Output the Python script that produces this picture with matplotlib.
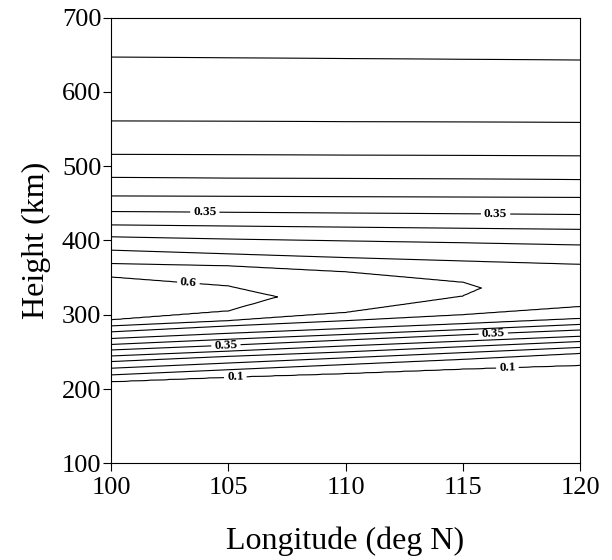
import numpy as np
import matplotlib
matplotlib.use("Agg")
import matplotlib.pyplot as plt

plt.rcParams['font.family'] = ['Liberation Serif', 'DejaVu Serif']

# Longitude columns at which contour crossing heights were read (deg)
lons = [100, 105, 110, 115, 120]
# Contour levels
levels = [0.1, 0.15, 0.2, 0.25, 0.3, 0.35, 0.4, 0.45, 0.5, 0.55, 0.6]
nan = np.nan
# Heights (km) where each level is crossed below the peak, per longitude column
lower_heights = [
    [210, 216, 221, 227, 232],        # 0.10
    [219, 226, 233, 240, 248],        # 0.15
    [228, 235, 242, 249, 256],        # 0.20
    [237, 244, 250, 257, 264],        # 0.25
    [244.5, 251, 258, 264.5, 271],    # 0.30
    [252.6, 259, 266, 273, 279.5],    # 0.35
    [260, 267, 273.5, 280, 287],      # 0.40
    [268, 275, 281.5, 288, 295],      # 0.45
    [277, 285, 292, 300, 311],        # 0.50
    [285, 292, 303, 325, nan],        # 0.55
    [293, 305, nan, nan, nan],        # 0.60
]
# Heights (km) where each level is crossed above the peak, per longitude column
upper_heights = [
    [647, 646, 645, 644, 643],        # 0.10
    [561, 560.5, 560, 559.5, 559],    # 0.15
    [516, 515.5, 515, 514.5, 514],    # 0.20
    [485, 484, 483.5, 483, 482],      # 0.25
    [460, 459.5, 459, 458.5, 458],    # 0.30
    [439, 438, 437, 436, 435],        # 0.35
    [421, 419.5, 418, 416.5, 415],    # 0.40
    [405, 402, 399.5, 397, 394],      # 0.45
    [387, 382, 377, 372.5, 368],      # 0.50
    [369, 366, 358, 344, nan],        # 0.55
    [351, 339, nan, nan, nan],        # 0.60
]
# Tips of the closed contours: level -> (longitude, height)
nose_points = {0.55: (115.8, 336.0), 0.6: (107.1, 324.0)}
# Peak value and its height per column
peak_values = [0.63, 0.612, 0.585, 0.553, 0.535]
peak_heights = [322, 323, 330, 335, 340]
bottom_value = 0.0
top_value = 0.075

# ---- build the gridded field from the read crossings ----
heights = np.arange(100, 701, 1.0)
fine_lons = np.linspace(100, 120, 201)


def crossing(i, lon, rows):
    vals = np.array(rows[i], dtype=float)
    lv = levels[i]
    xs = [l for l, v in zip(lons, vals) if not np.isnan(v)]
    ys = [v for v in vals if not np.isnan(v)]
    if lv in nose_points:
        nl, nh = nose_points[lv]
        if lon > nl:
            return nan
        xs = xs + [nl]
        ys = ys + [nh]
    return np.interp(lon, xs, ys)


Z = np.zeros((len(heights), len(fine_lons)))
for j, lon in enumerate(fine_lons):
    pv = np.interp(lon, lons, peak_values)
    ph = np.interp(lon, lons, peak_heights)
    lo = [crossing(i, lon, lower_heights) for i in range(len(levels))]
    up = [crossing(i, lon, upper_heights) for i in range(len(levels))]
    present = [i for i in range(len(levels)) if not np.isnan(lo[i])]
    top_i = present[-1]
    ph = min(max(ph, lo[top_i] + 0.01), up[top_i] - 0.01)
    pv = max(pv, levels[top_i] + 1e-4)
    hs, vs = [100.0], [bottom_value]
    for i in present:
        hs.append(lo[i]); vs.append(levels[i])
    hs.append(ph); vs.append(pv)
    for i in reversed(present):
        hs.append(up[i]); vs.append(levels[i])
    hs.append(700.0); vs.append(top_value)
    Z[:, j] = np.interp(heights, hs, vs)

fig = plt.figure(figsize=(6.12, 5.6), dpi=100)
ax = fig.add_axes([0.1814, 0.1727, 0.7663, 0.7957])

cs = ax.contour(fine_lons, heights, Z, levels=levels, colors='k', linewidths=0.8)

label_positions = [(104.0, 438), (116.4, 436), (103.3, 343),
                   (104.9, 259), (105.3, 215), (116.3, 274), (116.9, 230)]
with plt.rc_context({'font.weight': 'bold'}):
    ax.clabel(cs, manual=label_positions, fmt='%g', fontsize=9.5,
              inline=True, inline_spacing=3)

ax.set_xlim(100, 120)
ax.set_ylim(100, 700)
ax.set_xticks([100, 105, 110, 115, 120])
ax.set_yticks([100, 200, 300, 400, 500, 600, 700])
ax.tick_params(direction='out', length=6, width=0.8, labelsize=19,
               top=False, right=False)
ax.tick_params(axis='x', pad=4)
ax.tick_params(axis='y', pad=1)
for s in ax.spines.values():
    s.set_linewidth(0.8)

ax.set_xlabel('Longitude (deg N)', fontsize=23, fontweight='normal', labelpad=20)
ax.set_ylabel('Height (km)', fontsize=23, fontweight='normal', labelpad=8)

fig.savefig('out.png', dpi=100)
